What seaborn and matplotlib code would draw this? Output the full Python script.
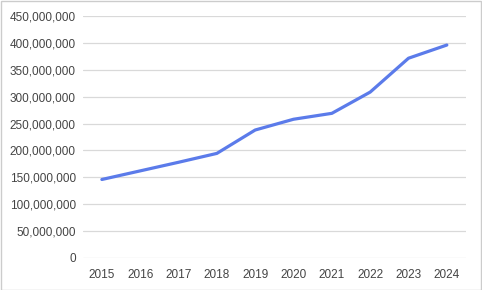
import matplotlib
matplotlib.use("Agg")
import matplotlib.pyplot as plt
import matplotlib.ticker as mticker
from matplotlib.patches import Rectangle
import seaborn as sns
import pandas as pd

years = ["2015", "2016", "2017", "2018", "2019", "2020", "2021", "2022", "2023", "2024"]
values = [146e6, 162e6, 178e6, 194.5e6, 238e6, 258e6, 269e6, 308.5e6, 371.5e6, 396e6]
y_ticks = [0, 50e6, 100e6, 150e6, 200e6, 250e6, 300e6, 350e6, 400e6, 450e6]

df = pd.DataFrame({"year": years, "value": values})

sns.set_theme(style="white")
plt.rcParams["font.family"] = ["Liberation Sans", "DejaVu Sans"]

fig = plt.figure(figsize=(4.82, 2.90), dpi=100)
ax = fig.add_axes([82.7 / 482, 1 - 258 / 290, (466 - 82.7) / 482, (258 - 16) / 290])

sns.lineplot(data=df, x="year", y="value", ax=ax, color="#5B7BEA", linewidth=2.3, sort=False)

ax.set_xlim(-0.5, len(years) - 0.5)
ax.set_ylim(0, 450e6)
ax.set_yticks(y_ticks)
ax.yaxis.set_major_formatter(mticker.FuncFormatter(lambda v, p: f"{int(v):,}"))
ax.grid(axis="y", color="#d9d9d9", linewidth=0.9)
ax.grid(axis="x", visible=False)
ax.set_axisbelow(True)
for s in ax.spines.values():
    s.set_visible(False)
ax.tick_params(axis="both", length=0, labelsize=8.5, colors="#444444")
ax.tick_params(axis="y", pad=5)
ax.tick_params(axis="x", pad=8)
ax.set_xlabel("")
ax.set_ylabel("")

fig.patches.append(Rectangle((0.5 / 482, 0.5 / 290), 480.5 / 482, 288.5 / 290,
                             transform=fig.transFigure, fill=False,
                             edgecolor="#cccccc", linewidth=1))

fig.savefig("out.png", dpi=100)
